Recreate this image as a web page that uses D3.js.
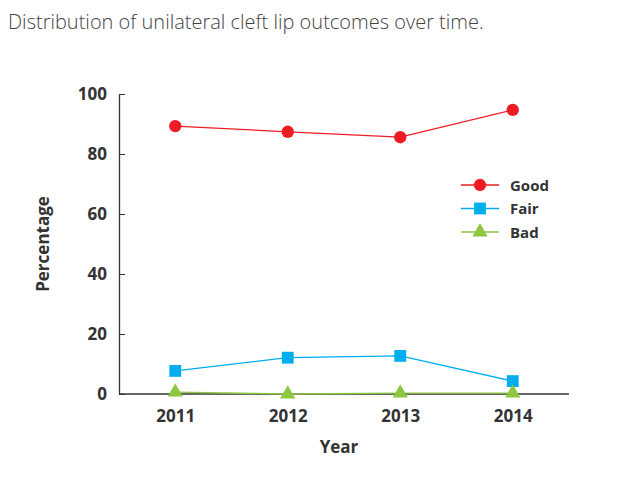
<!DOCTYPE html>
<html>
<head>
<meta charset="utf-8">
<script src="https://cdn.jsdelivr.net/npm/d3@7"></script>
<style>
  body { margin: 0; background: #fff; }
  svg { display: block; font-family: "Open Sans", "DejaVu Sans", sans-serif; }
</style>
</head>
<body>
<div id="app"></div>
<script>
const years = [`2011`, `2012`, `2013`, `2014`];
const good = [89.3, 87.4, 85.6, 94.7];
const fair = [7.7, 12.1, 12.7, 4.3];
const bad = [0.6, 0, 0.3, 0.3];
const yTicks = [0, 20, 40, 60, 80, 100];
const seriesNames = [`Good`, `Fair`, `Bad`];

const W = 622, H = 494;
const M = {left: 119, right: 53, top: 94, bottom: 100};

const svg = d3.select(`#app`).append(`svg`).attr(`width`, W).attr(`height`, H);

svg.append(`text`)
  .attr(`x`, 8).attr(`y`, 29)
  .attr(`font-size`, `20px`).attr(`font-weight`, 300).attr(`fill`, `#444`)
  .text(`Distribution of unilateral cleft lip outcomes over time.`);

let x = d3.scalePoint().domain(years).range([M.left, W - M.right]).padding(0.5),
  y = d3.scaleLinear().domain([0, 100]).range([H - M.bottom, M.top]);

// y axis, ticks pointing inward
let yAxis = svg.append(`g`).attr(`transform`, `translate(${M.left},0)`)
  .call(d3.axisLeft(y).tickValues(yTicks).tickSizeInner(-6).tickSizeOuter(0).tickPadding(12));
yAxis.select(`.domain`).attr(`stroke`, `#333`).attr(`stroke-width`, 1.3);
yAxis.selectAll(`.tick line`).attr(`stroke`, `#333`);
yAxis.selectAll(`text`).attr(`font-size`, `17px`).attr(`font-weight`, `bold`).attr(`fill`, `#333`).attr(`font-family`, `"Open Sans", sans-serif`);

let xAxis = svg.append(`g`).attr(`transform`, `translate(0,${H - M.bottom})`)
  .call(d3.axisBottom(x).tickSize(0).tickPadding(16));
xAxis.select(`.domain`).attr(`d`, `M${M.left},0H${W - M.right}`).attr(`stroke`, `#333`).attr(`stroke-width`, 1.3);
xAxis.selectAll(`text`).attr(`font-size`, `17px`).attr(`font-weight`, `bold`).attr(`fill`, `#333`).attr(`font-family`, `"Open Sans", sans-serif`);

svg.append(`text`)
  .attr(`x`, 339).attr(`y`, 453)
  .attr(`text-anchor`, `middle`).attr(`font-size`, `17px`).attr(`font-weight`, `bold`).attr(`fill`, `#333`)
  .text(`Year`);

svg.append(`text`)
  .attr(`transform`, `translate(49,${y(50)}) rotate(-90)`)
  .attr(`text-anchor`, `middle`).attr(`font-size`, `17px`).attr(`font-weight`, `bold`).attr(`fill`, `#333`)
  .text(`Percentage`);

let series = [
  {name: seriesNames[0], values: good, color: `#ed1c24`, shape: d3.symbolCircle, size: 120},
  {name: seriesNames[1], values: fair, color: `#00aeef`, shape: d3.symbolSquare, size: 140},
  {name: seriesNames[2], values: bad, color: `#8dc63f`, shape: d3.symbolTriangle, size: 100}
];

let line = d3.line().x((d, i) => x(years[i])).y(d => y(d));

series.forEach(S => {
  svg.append(`path`).datum(S.values).attr(`d`, line)
    .attr(`fill`, `none`).attr(`stroke`, S.color).attr(`stroke-width`, 1.3);

  svg.selectAll(null).data(S.values).enter().append(`path`)
    .attr(`d`, d3.symbol().type(S.shape).size(S.size))
    .attr(`transform`, (d, i) => `translate(${x(years[i])},${y(d)})`)
    .attr(`fill`, S.color);
});

// legend
let legend = svg.append(`g`).attr(`transform`, `translate(461,185)`);

series.forEach((S, i) => {
  let g = legend.append(`g`).attr(`transform`, `translate(0,${i * 23.5})`);
  g.append(`path`).attr(`d`, `M0,0H38`).attr(`stroke`, S.color).attr(`stroke-width`, 1.3);
  g.append(`path`).attr(`d`, d3.symbol().type(S.shape).size(S.size)).attr(`transform`, `translate(19,0)`).attr(`fill`, S.color);
  g.append(`text`).attr(`x`, 49).attr(`y`, 5.5)
    .attr(`font-size`, `15px`).attr(`font-weight`, `bold`).attr(`fill`, `#333`)
    .text(S.name);
});
</script>
</body>
</html>
